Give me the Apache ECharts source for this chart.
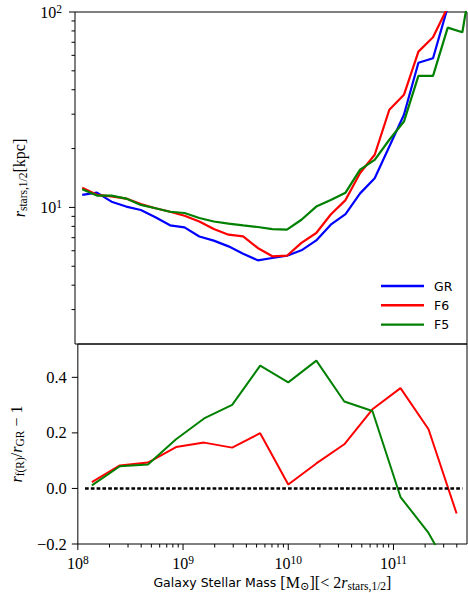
<!DOCTYPE html>
<html><head><meta charset="utf-8">
<script src="https://cdn.jsdelivr.net/npm/echarts@6/dist/echarts.min.js"></script>
<style>html,body{margin:0;padding:0;background:#fff}#c{width:468px;height:593px}</style>
</head><body><div id="c"></div>
<script>
// ---- data ----
const massTop = [1.17e8, 1.61e8, 2.21e8, 3.04e8, 4.18e8, 5.74e8, 7.89e8, 1.08e9, 1.49e9, 2.04e9,
  2.81e9, 3.86e9, 5.30e9, 7.28e9, 1.00e10, 1.37e10, 1.89e10, 2.59e10, 3.57e10, 4.90e10,
  6.73e10, 9.25e10, 1.27e11, 1.74e11, 2.39e11, 3.29e11, 4.52e11, 6.21e11];
const rGR = [11.6, 11.9, 10.7, 10.1, 9.7, 8.9, 8.1, 7.9, 7.1, 6.76, 6.32, 5.80, 5.36, 5.51, 5.66,
  6.03, 6.78, 8.16, 9.25, 11.8, 14.1, 20.5, 29.8, 55.0, 58.0, 106];
const rF6 = [12.6, 11.6, 11.4, 11.1, 10.4, 9.9, 9.5, 9.07, 8.48, 7.75, 7.25, 7.11, 6.2, 5.62, 5.66,
  6.58, 7.4, 9.2, 10.9, 15.0, 18.6, 31.6, 37.7, 62.7, 74.2, 106];
const rF5 = [12.4, 11.5, 11.5, 11.1, 10.3, 9.9, 9.5, 9.36, 8.83, 8.47, 8.26, 8.09, 7.94, 7.75, 7.69,
  8.65, 10.1, 10.9, 11.9, 15.6, 17.5, 22.2, 27.5, 47.1, 47.1, 83.2, 78.8, 220];

const massBottom = [1.36e8, 2.51e8, 4.64e8, 8.58e8, 1.585e9, 2.93e9, 5.41e9, 1.0e10, 1.85e10,
  3.41e10, 6.31e10, 1.167e11, 2.154e11, 3.98e11];
const dF6 = [0.023, 0.083, 0.093, 0.149, 0.165, 0.147, 0.199, 0.014, 0.090, 0.159, 0.285, 0.361, 0.213, -0.090];
const dF5 = [0.011, 0.080, 0.086, 0.177, 0.252, 0.301, 0.442, 0.382, 0.460, 0.313, 0.279, -0.031, -0.160, -0.340];

const zeroLineMass = [1.17e8, 4.52e11];
const zeroLineValue = [0, 0];

const seriesNames = ['GR', 'F6', 'F5'];
const xRange = [1e8, 5e11];
const yTopRange = [2, 100];
const yBotRange = [-0.2, 0.52];
const xMajorTicks = [1e8, 1e9, 1e10, 1e11];
const xMinorTicks = [2e8,3e8,4e8,5e8,6e8,7e8,8e8,9e8, 2e9,3e9,4e9,5e9,6e9,7e9,8e9,9e9,
  2e10,3e10,4e10,5e10,6e10,7e10,8e10,9e10, 2e11,3e11,4e11];
const yTopMajorTicks = [10, 100];
const yTopMinorTicks = [3,4,5,6,7,8,9,20,30,40,50,60,70,80,90];
const yBotMajorTicks = [-0.2, 0, 0.2, 0.4];

// ---- styling ----
const SERIF = "'Liberation Serif','DejaVu Serif',serif";
const SANS = "'DejaVu Sans',sans-serif";
const colors = ['#0000ff', '#ff0000', '#008000'];
const pairs = (xs, ys) => ys.map((y, i) => [xs[i], y]);

function isPow10(v) { const l = Math.log10(v); return Math.abs(l - Math.round(l)) < 1e-6; }
const powRich = {
  b: { fontFamily: SERIF, fontSize: 16, lineHeight: 18, color: '#000' },
  s: { fontFamily: SERIF, fontSize: 11.5, lineHeight: 11, verticalAlign: 'top', color: '#000' }
};
const mathRich = {
  r: { fontFamily: SERIF, fontStyle: 'italic', fontSize: 16, lineHeight: 20, color: '#000' },
  n: { fontFamily: SERIF, fontSize: 16, lineHeight: 20, color: '#000' },
  sub: { fontFamily: SERIF, fontSize: 11.5, lineHeight: 11, verticalAlign: 'bottom', color: '#000' },
  t: { fontFamily: SANS, fontSize: 12.5, lineHeight: 20, color: '#000' }
};

function tickSeries(gi, dim, values, len, anchor) {
  return {
    type: 'custom', xAxisIndex: gi, yAxisIndex: gi, clip: false, silent: true, z: 10,
    data: values.map(v => dim === 'x' ? [v, anchor] : [anchor, v]),
    renderItem(params, api) {
      const p = api.coord([api.value(0), api.value(1)]);
      const shape = dim === 'x'
        ? { x1: p[0], y1: p[1], x2: p[0], y2: p[1] + len }
        : { x1: p[0] - len, y1: p[1], x2: p[0], y2: p[1] };
      return { type: 'line', shape, style: { stroke: '#000', lineWidth: 1 } };
    }
  };
}

const lineBase = { type: 'line', showSymbol: false, symbol: 'none', clip: true, z: 3 };

const option = {
  animation: false,
  backgroundColor: '#fff',
  grid: [
    { left: 75, top: 12, width: 392, height: 332, show: true, borderColor: '#000', borderWidth: 1, backgroundColor: 'transparent' },
    { left: 75, top: 344, width: 392, height: 200, show: true, borderColor: '#000', borderWidth: 1, backgroundColor: 'transparent' }
  ],
  legend: {
    data: seriesNames, orient: 'vertical', left: 381, top: 279, padding: 0,
    icon: 'rect', itemWidth: 43, itemHeight: 2.4, itemGap: 5.3, selectedMode: false,
    textStyle: { fontFamily: SANS, fontSize: 12.5, lineHeight: 14, color: '#000', padding: [0, 0, 0, 5] }
  },
  xAxis: [
    { type: 'log', logBase: 10, gridIndex: 0, min: xRange[0], max: xRange[1],
      axisLine: { show: false }, axisTick: { show: false }, axisLabel: { show: false }, splitLine: { show: false } },
    { type: 'log', logBase: 10, gridIndex: 1, min: xRange[0], max: xRange[1],
      axisLine: { show: false }, axisTick: { show: false }, splitLine: { show: false },
      axisLabel: { margin: 10, showMinLabel: true, showMaxLabel: false,
        formatter: v => isPow10(v) ? '{b|10}{s|' + Math.round(Math.log10(v)) + '}' : '', rich: powRich },
      name: '{t|Galaxy Stellar Mass }{n|[M}{sub|⊙}{n|][< 2}{r|r}{sub|stars,1/2}{n|]}',
      nameLocation: 'middle', nameGap: 28, nameTextStyle: { rich: mathRich } }
  ],
  yAxis: [
    { type: 'log', logBase: 10, gridIndex: 0, min: yTopRange[0], max: yTopRange[1],
      axisLine: { show: false }, axisTick: { show: false }, splitLine: { show: false },
      axisLabel: { margin: 13, showMinLabel: false, showMaxLabel: true,
        formatter: v => isPow10(v) ? '{b|10}{s|' + Math.round(Math.log10(v)) + '}' : '', rich: powRich },
      name: '{r|r}{sub|stars,1/2}{n|[kpc]}', nameLocation: 'middle', nameGap: 42, nameRotate: 90,
      nameTextStyle: { rich: mathRich } },
    { type: 'value', gridIndex: 1, min: yBotRange[0], max: yBotRange[1], interval: 0.2,
      axisLine: { show: false }, axisTick: { show: false }, splitLine: { show: false },
      axisLabel: { margin: 11, showMinLabel: true, showMaxLabel: false, fontFamily: SERIF, fontSize: 16.5, color: '#000',
        formatter: v => v > 0.41 ? '' : (v < -1e-9 ? '\u2212' + Math.abs(v).toFixed(1) : Math.abs(v).toFixed(1)) },
      name: '{r|r}{sub|f(R)}{n|/}{r|r}{sub|GR}{n| \u2212 1}', nameLocation: 'middle', nameGap: 49, nameRotate: 90,
      nameTextStyle: { rich: mathRich } }
  ],
  series: [
    Object.assign({}, lineBase, { name: seriesNames[0], xAxisIndex: 0, yAxisIndex: 0, data: pairs(massTop, rGR), lineStyle: { color: colors[0], width: 2.2 }, itemStyle: { color: colors[0] } }),
    Object.assign({}, lineBase, { name: seriesNames[1], xAxisIndex: 0, yAxisIndex: 0, data: pairs(massTop, rF6), lineStyle: { color: colors[1], width: 2.2 }, itemStyle: { color: colors[1] } }),
    Object.assign({}, lineBase, { name: seriesNames[2], xAxisIndex: 0, yAxisIndex: 0, data: pairs(massTop, rF5), lineStyle: { color: colors[2], width: 2.2 }, itemStyle: { color: colors[2] } }),
    Object.assign({}, lineBase, { name: seriesNames[1] + ' ratio', xAxisIndex: 1, yAxisIndex: 1, data: pairs(massBottom, dF6), lineStyle: { color: colors[1], width: 2 }, itemStyle: { color: colors[1] } }),
    Object.assign({}, lineBase, { name: seriesNames[2] + ' ratio', xAxisIndex: 1, yAxisIndex: 1, data: pairs(massBottom, dF5), lineStyle: { color: colors[2], width: 2 }, itemStyle: { color: colors[2] } }),
    Object.assign({}, lineBase, { name: 'zero', xAxisIndex: 1, yAxisIndex: 1, z: 4, data: pairs(zeroLineMass, zeroLineValue), lineStyle: { color: '#000', width: 2.5, type: [3.7, 2.1], cap: 'butt' } }),
    tickSeries(1, 'x', xMajorTicks, 6, yBotRange[0]),
    tickSeries(1, 'x', xMinorTicks, 3.5, yBotRange[0]),
    tickSeries(0, 'y', yTopMajorTicks, 6, xRange[0]),
    tickSeries(0, 'y', yTopMinorTicks, 3.5, xRange[0]),
    tickSeries(1, 'y', yBotMajorTicks, 6, xRange[0])
  ]
};
const chart = echarts.init(document.getElementById('c'), null, { renderer: 'svg', width: 468, height: 593 });
chart.setOption(option);
</script></body></html>
